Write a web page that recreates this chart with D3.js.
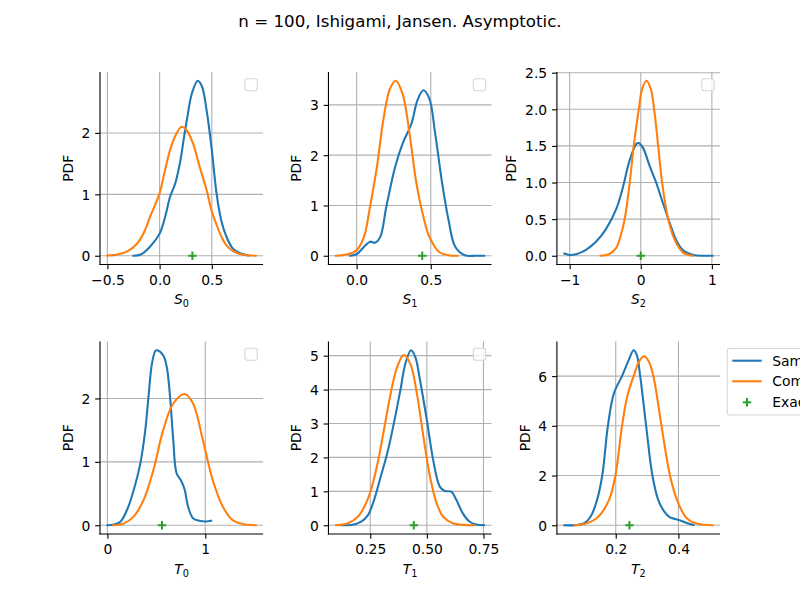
<!DOCTYPE html>
<html>
<head>
<meta charset="utf-8">
<script src="https://cdn.jsdelivr.net/npm/d3@7"></script>
<style>
  html, body { margin: 0; padding: 0; background: #fff; }
  svg { display: block; font-family: "DejaVu Sans", sans-serif; }
</style>
</head>
<body>
<svg id="chart" width="800" height="600"></svg>
<script>
// ---------------- data ----------------
const titleText = "n = 100, Ishigami, Jansen. Asymptotic.";
const seriesNames = ["Sample", "Computed", "Exact"];
const panelSymbols = ["S", "S", "S", "T", "T", "T"];
const panelIndices = ["0", "1", "2", "0", "1", "2"];
const exactValues = [0.3139, 0.4424, 0.0, 0.5576, 0.4424, 0.2437];

const s0Sample = [[-0.25,0],[-0.18,0.02],[-0.09,0.15],[0,0.36],[0.054,0.64],[0.1,0.96],[0.15,1.18],[0.2,1.56],[0.23,1.89],[0.26,2.2],[0.31,2.65],[0.365,2.85],[0.405,2.76],[0.45,2.37],[0.5,1.72],[0.545,1.02],[0.59,0.58],[0.64,0.31],[0.7,0.12],[0.77,0.04],[0.85,0.005]];
const s0Computed = [[-0.5,0.003],[-0.4,0.02],[-0.31,0.07],[-0.215,0.2],[-0.15,0.38],[-0.09,0.64],[0,1.02],[0.05,1.38],[0.1,1.72],[0.15,1.95],[0.21,2.1],[0.26,2.04],[0.32,1.83],[0.38,1.47],[0.45,1.07],[0.5,0.72],[0.54,0.53],[0.6,0.28],[0.64,0.17],[0.7,0.08],[0.77,0.03],[0.85,0.008],[0.92,0.001]];

const s1Sample = [[-0.044,0],[0,0.03],[0.05,0.18],[0.09,0.28],[0.125,0.26],[0.16,0.38],[0.2,0.97],[0.26,1.77],[0.31,2.23],[0.37,2.63],[0.41,3.09],[0.45,3.29],[0.49,3.13],[0.53,2.43],[0.577,1.44],[0.62,0.71],[0.665,0.18],[0.73,0.01],[0.8,0],[0.86,0]];
const s1Computed = [[-0.14,0],[-0.06,0.03],[0,0.11],[0.05,0.38],[0.09,0.97],[0.137,1.77],[0.18,2.7],[0.225,3.32],[0.264,3.48],[0.31,3.22],[0.357,2.43],[0.4,1.5],[0.445,0.84],[0.49,0.38],[0.555,0.08],[0.62,0.01],[0.68,0]];

const s2Sample = [[-1.075,0.03],[-1.0,0.01],[-0.91,0.02],[-0.77,0.08],[-0.63,0.19],[-0.485,0.37],[-0.34,0.65],[-0.25,0.94],[-0.155,1.31],[-0.06,1.53],[-0.03,1.54],[0.033,1.47],[0.127,1.22],[0.22,0.99],[0.315,0.71],[0.41,0.44],[0.5,0.21],[0.6,0.07],[0.74,0.01],[0.88,0],[1.01,0]];
const s2Computed = [[-0.565,0],[-0.45,0.02],[-0.35,0.1],[-0.29,0.25],[-0.226,0.5],[-0.155,1.0],[-0.099,1.5],[-0.028,2.0],[0.02,2.28],[0.08,2.39],[0.14,2.28],[0.188,2.0],[0.245,1.5],[0.3,1.0],[0.386,0.5],[0.45,0.28],[0.5,0.17],[0.6,0.04],[0.73,0]];

const t0Sample = [[0,0],[0.067,0.01],[0.135,0.06],[0.2,0.24],[0.27,0.56],[0.337,0.98],[0.387,1.5],[0.42,2.03],[0.455,2.55],[0.49,2.75],[0.505,2.76],[0.57,2.68],[0.606,2.5],[0.64,2.03],[0.673,1.34],[0.707,0.82],[0.757,0.69],[0.79,0.56],[0.825,0.29],[0.875,0.11],[0.94,0.07],[1.01,0.06],[1.06,0.07]];
const t0Computed = [[0.06,0],[0.17,0.03],[0.27,0.14],[0.37,0.4],[0.47,0.87],[0.57,1.5],[0.673,1.92],[0.79,2.07],[0.875,1.92],[0.976,1.34],[1.077,0.71],[1.18,0.29],[1.28,0.08],[1.38,0.02],[1.515,0]];

const t1Sample = [[0.122,0],[0.166,0.01],[0.21,0.11],[0.24,0.3],[0.267,0.75],[0.296,1.43],[0.325,2.12],[0.354,3.0],[0.383,3.98],[0.405,4.76],[0.43,5.16],[0.449,4.96],[0.47,4.27],[0.5,3.1],[0.528,1.92],[0.557,1.14],[0.579,1.01],[0.608,0.99],[0.63,0.75],[0.659,0.35],[0.688,0.11],[0.717,0.02],[0.753,0]];
const t1Computed = [[0.098,0],[0.151,0.06],[0.195,0.25],[0.224,0.55],[0.253,1.04],[0.282,1.82],[0.31,2.8],[0.34,3.88],[0.369,4.67],[0.398,5.02],[0.427,4.76],[0.456,3.88],[0.485,2.6],[0.514,1.43],[0.543,0.65],[0.572,0.25],[0.615,0.06],[0.707,0]];

const t2Sample = [[0.036,0],[0.07,0.005],[0.1,0.08],[0.12,0.35],[0.14,1.0],[0.157,2.0],[0.175,4.0],[0.194,5.3],[0.22,6.0],[0.24,6.6],[0.257,7.04],[0.267,6.85],[0.278,6.0],[0.297,4.0],[0.317,2.0],[0.336,1.0],[0.355,0.55],[0.373,0.32],[0.39,0.25],[0.404,0.2],[0.425,0.1],[0.448,0.01]];
const t2Computed = [[0.069,0],[0.1,0.05],[0.141,0.3],[0.178,1.0],[0.199,2.0],[0.22,4.0],[0.237,5.2],[0.257,6.0],[0.275,6.6],[0.29,6.8],[0.305,6.6],[0.32,6.0],[0.346,4.0],[0.373,2.0],[0.396,1.0],[0.425,0.3],[0.45,0.1],[0.48,0.02],[0.509,0]];

const xTickValues = [[-0.5,0,0.5],[0,0.5],[-1,0,1],[0,1],[0.25,0.5,0.75],[0.2,0.4]];
const xTickLabels = [["−0.5","0.0","0.5"],["0.0","0.5"],["−1","0","1"],["0","1"],["0.25","0.50","0.75"],["0.2","0.4"]];
const yTickValues = [[0,1,2],[0,1,2,3],[0,0.5,1,1.5,2,2.5],[0,1,2],[0,1,2,3,4,5],[0,2,4,6]];
const yTickLabels = [["0","1","2"],["0","1","2","3"],["0.0","0.5","1.0","1.5","2.0","2.5"],["0","1","2"],["0","1","2","3","4","5"],["0","2","4","6"]];

const sampleSeries = [s0Sample, s1Sample, s2Sample, t0Sample, t1Sample, t2Sample];
const computedSeries = [s0Computed, s1Computed, s2Computed, t0Computed, t1Computed, t2Computed];

// ---------------- layout / style ----------------
const colors = { sample: "#1f77b4", computed: "#ff7f0e", exact: "#2ca02c" };
const FS = 13.89;
const axW = 163.08, axH = 192.5;
const colLeft = [100, 328.46, 556.92];
const rowTop = [72, 341.5];
const svg = d3.select("#chart");

svg.append("text").attr("x", 400).attr("y", 26.5).attr("text-anchor", "middle")
  .attr("font-size", 16.67).attr("fill", "#000").text(titleText);

function padExtent(vals) {
  const [a, b] = d3.extent(vals);
  const m = (b - a) * 0.05;
  return [a - m, b + m];
}

for (let i = 0; i < 6; i++) {
  const left = colLeft[i % 3], top = rowTop[Math.floor(i / 3)];
  const right = left + axW, bottom = top + axH;
  const sData = sampleSeries[i], cData = computedSeries[i];
  const xs = sData.map(d => d[0]).concat(cData.map(d => d[0]), [exactValues[i]]);
  const ys = sData.map(d => d[1]).concat(cData.map(d => d[1]), [0]);
  const x = d3.scaleLinear().domain(padExtent(xs)).range([left, right]);
  const y = d3.scaleLinear().domain(padExtent(ys)).range([bottom, top]);
  const g = svg.append("g");

  // grid
  const grid = g.append("g").attr("stroke", "#b0b0b0").attr("stroke-width", 1.11);
  xTickValues[i].forEach(v => grid.append("line").attr("x1", x(v)).attr("x2", x(v)).attr("y1", top).attr("y2", bottom));
  yTickValues[i].forEach(v => grid.append("line").attr("x1", left).attr("x2", right).attr("y1", y(v)).attr("y2", y(v)));

  // axes via d3 axis generators
  const xAxis = d3.axisBottom(x).tickValues(xTickValues[i])
    .tickFormat((d, k) => xTickLabels[i][k]).tickSize(4.86).tickPadding(3.5).tickSizeOuter(0);
  const yAxis = d3.axisLeft(y).tickValues(yTickValues[i])
    .tickFormat((d, k) => yTickLabels[i][k]).tickSize(4.86).tickPadding(4.86).tickSizeOuter(0);
  const gx = g.append("g").attr("transform", `translate(0,${bottom})`).call(xAxis);
  const gy = g.append("g").attr("transform", `translate(${left},0)`).call(yAxis);
  [gx, gy].forEach(a => {
    a.attr("font-family", "DejaVu Sans").attr("font-size", FS);
    a.select(".domain").remove();
    a.selectAll(".tick line").attr("stroke", "#000").attr("stroke-width", 1.11);
    a.selectAll(".tick text").attr("fill", "#000");
  });
  gx.selectAll(".tick text").attr("dy", null).attr("y", 20).attr("dominant-baseline", "auto");
  gy.selectAll(".tick text").attr("dy", null).attr("y", 5);
  // spines (left & bottom only)
  g.append("line").attr("x1", left).attr("x2", left).attr("y1", top).attr("y2", bottom + 0.55)
    .attr("stroke", "#000").attr("stroke-width", 1.11);
  g.append("line").attr("x1", left - 0.55).attr("x2", right).attr("y1", bottom).attr("y2", bottom)
    .attr("stroke", "#000").attr("stroke-width", 1.11);

  // y label positioned from the widest tick label
  let maxW = 0;
  gy.selectAll(".tick text").each(function () { maxW = Math.max(maxW, this.getComputedTextLength()); });
  const ylx = left - 9.72 - maxW - 5.56 - 3.3;
  g.append("text").attr("transform", `translate(${ylx},${(top + bottom) / 2}) rotate(-90)`)
    .attr("text-anchor", "middle").attr("font-size", FS).attr("fill", "#000").text("PDF");

  // x label (mathtext style)
  const xl = g.append("text").attr("x", (left + right) / 2).attr("y", bottom + 39.5)
    .attr("text-anchor", "middle").attr("font-size", FS).attr("fill", "#000");
  xl.append("tspan").attr("font-style", "italic").text(panelSymbols[i]);
  xl.append("tspan").attr("font-size", FS * 0.7).attr("dy", 3.2).text(panelIndices[i]);

  // curves
  const line = d3.line().x(d => x(d[0])).y(d => y(d[1])).curve(d3.curveCatmullRom.alpha(0.5));
  g.append("path").datum(sData).attr("d", line).attr("fill", "none")
    .attr("stroke", colors.sample).attr("stroke-width", 2.08).attr("stroke-linecap", "square").attr("stroke-linejoin", "round");
  g.append("path").datum(cData).attr("d", line).attr("fill", "none")
    .attr("stroke", colors.computed).attr("stroke-width", 2.08).attr("stroke-linecap", "square").attr("stroke-linejoin", "round");

  // exact marker "+"
  const ex = x(exactValues[i]), ey = y(0), r = 4.2;
  const mk = g.append("g").attr("stroke", colors.exact).attr("stroke-width", 2);
  mk.append("line").attr("x1", ex - r).attr("x2", ex + r).attr("y1", ey).attr("y2", ey);
  mk.append("line").attr("x1", ex).attr("x2", ex).attr("y1", ey - r).attr("y2", ey + r);

  // legends
  if (i < 5) {
    g.append("rect").attr("x", right - 18.2).attr("y", top + 6.8).attr("width", 12.4).attr("height", 12)
      .attr("rx", 2.5).attr("fill", "#fff").attr("fill-opacity", 0.8)
      .attr("stroke", "#d6d6d6").attr("stroke-width", 1.1);
  } else {
    const lx = right + 7.3, ly = top + 7;
    const lg = g.append("g");
    lg.append("rect").attr("x", lx).attr("y", ly).attr("width", 120).attr("height", 66.5)
      .attr("rx", 2.5).attr("fill", "#fff").attr("fill-opacity", 0.8)
      .attr("stroke", "#d6d6d6").attr("stroke-width", 1.1);
    const rows = [ly + 12.2, ly + 32.8, ly + 53.8];
    [colors.sample, colors.computed].forEach((c, k) => {
      lg.append("line").attr("x1", lx + 5).attr("x2", lx + 34.4).attr("y1", rows[k]).attr("y2", rows[k])
        .attr("stroke", c).attr("stroke-width", 2.08);
    });
    const mx = lx + 19.7, my = rows[2];
    lg.append("line").attr("x1", mx - r).attr("x2", mx + r).attr("y1", my).attr("y2", my).attr("stroke", colors.exact).attr("stroke-width", 2);
    lg.append("line").attr("x1", mx).attr("x2", mx).attr("y1", my - r).attr("y2", my + r).attr("stroke", colors.exact).attr("stroke-width", 2);
    seriesNames.forEach((n, k) => {
      lg.append("text").attr("x", lx + 45).attr("y", rows[k] + 5).attr("font-size", FS).attr("fill", "#000").text(n);
    });
  }
}
</script>
</body>
</html>
